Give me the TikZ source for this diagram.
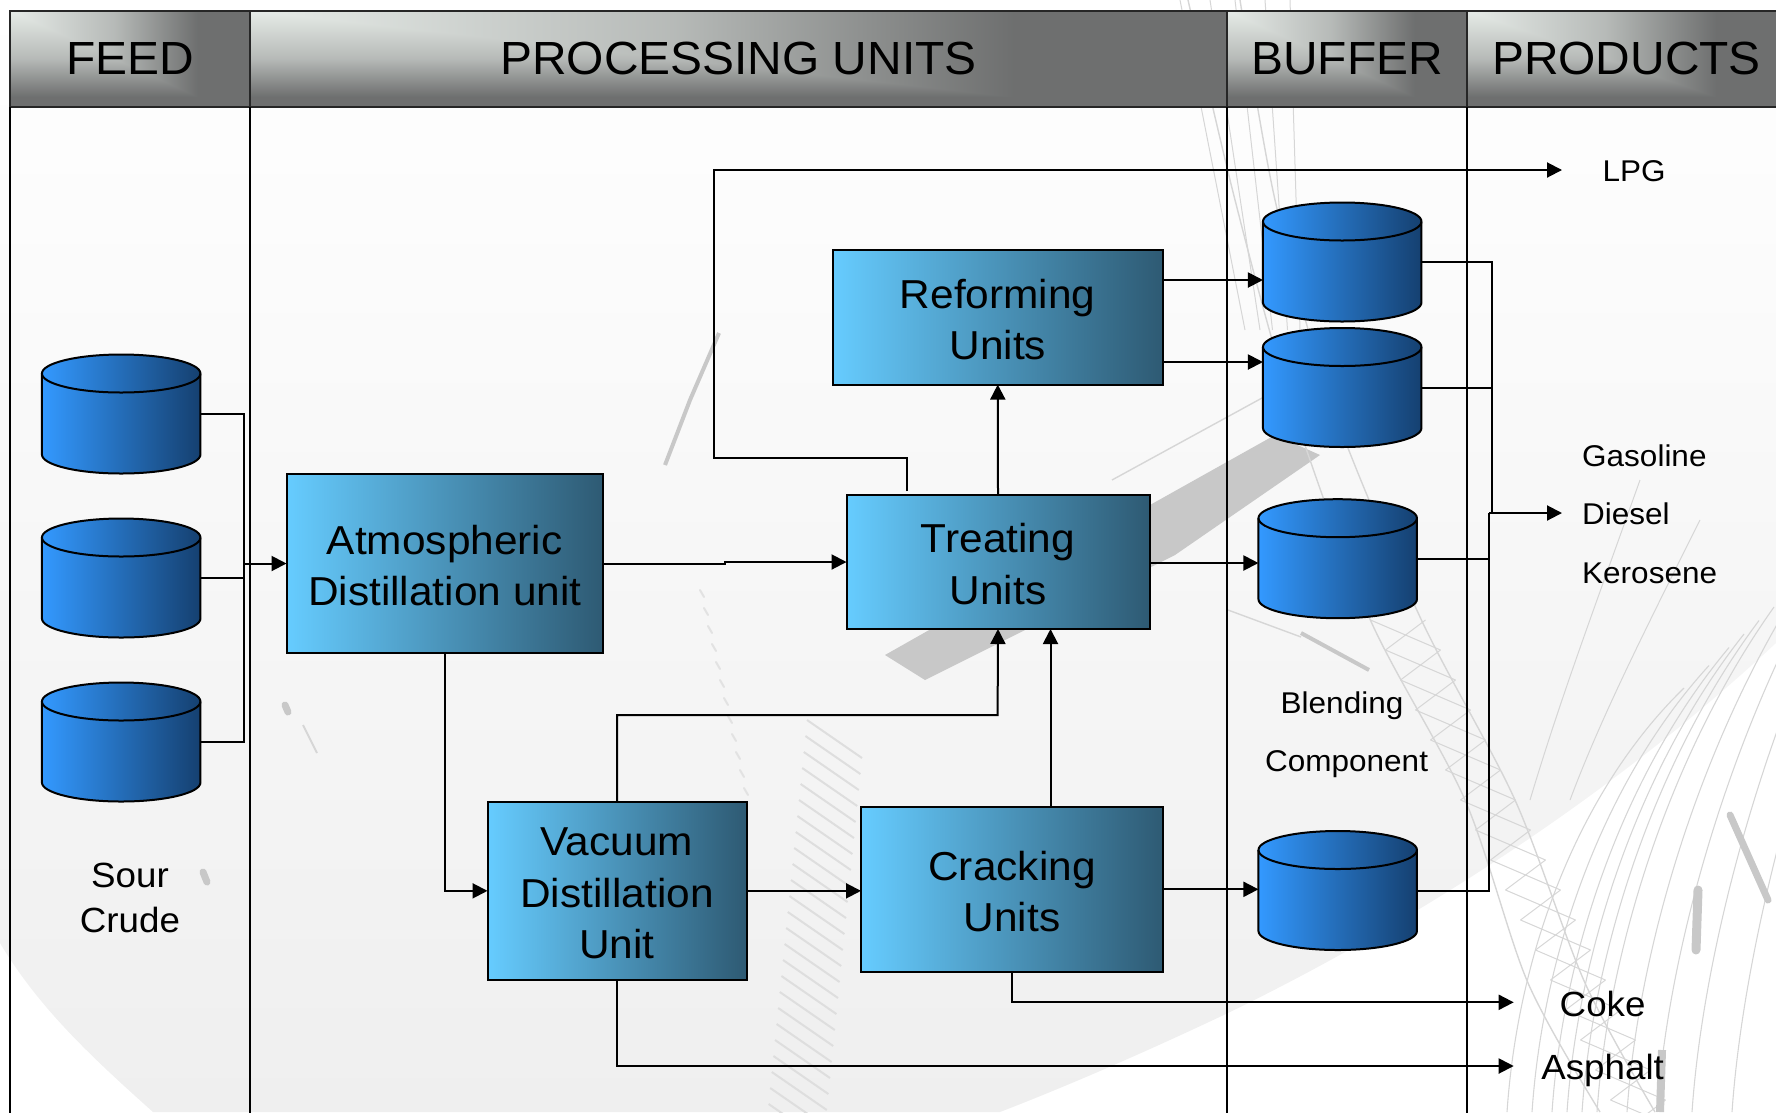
\documentclass[tikz,border=0pt]{standalone}
\usepackage{fontspec}
\usetikzlibrary{arrows.meta,calc}
\newfontfamily\diafont[FakeStretch=1.05]{Liberation Sans}
\newfontfamily\hdrfont[FakeStretch=1.03]{Liberation Sans}
\definecolor{boxL}{HTML}{66CCFF}
\definecolor{boxR}{HTML}{2E5A73}
\definecolor{tankL}{HTML}{3399FF}
\definecolor{tankR}{HTML}{154070}
\definecolor{wmA}{HTML}{D6D6D6}
\definecolor{wmB}{HTML}{C8C8C8}
\definecolor{wmC}{HTML}{DEDEDE}
\definecolor{bgG}{HTML}{EFEFEF}
\newcommand{\nudgedown}{\mbox{}\\[-18pt]}
% corner gradient of the header cells
\pgfdeclarefunctionalshading{hdrcorner}{\pgfpointorigin}{\pgfpoint{100bp}{100bp}}{}{
 75 exch sub 50 div exch 25 sub 50 div 1.15 mul
 2 copy lt {exch} if pop
 dup 0.5 lt {0.8 mul}{0.5 sub 1.5 mul 0.4 add} ifelse
 dup 1 gt {pop 1} if
 dup 0.475 mul 0.905 exch sub exch
 dup 0.49 mul 0.925 exch sub exch
 0.475 mul 0.91 exch sub
}
\tikzset{
 x=1pt,y=-1pt,
 hdr/.style={draw=black!85,line width=2pt,shade,shading=hdrcorner,inner sep=0pt,outer sep=0pt,minimum height=96pt,
   text depth=-3pt,font=\hdrfont\fontsize{46.5}{50}\selectfont},
 lane/.style={draw=black,line width=2pt},
 unitbox/.style={draw=black,line width=2pt,left color=boxL,right color=boxR,inner sep=0pt,outer sep=0pt,align=center,
   font=\diafont\fontsize{40.4}{51.5}\selectfont},
 tankbox/.style={inner sep=0pt,outer sep=0pt,minimum width=158.5pt,minimum height=119pt},
 tankbody/.style={draw=black,line width=2pt,left color=tankL,right color=tankR},
 link/.style={draw=black,line width=2pt},
 flow/.style={link,-{Triangle[length=15pt,width=15pt]}},
 lblS/.style={inner sep=0pt,font=\diafont\fontsize{30}{58.5}\selectfont},
 lblM/.style={inner sep=0pt,align=center,font=\diafont\fontsize{35}{45}\selectfont},
 wm/.style={draw=wmA,line width=1.4pt},
}
\newcommand{\mktank}[3]{%
 \node[tankbox] (#1) at (#2,#3) {};
 \path[tankbody] ([yshift=-19pt]#1.north west) -- ([yshift=19pt]#1.south west)
   arc[start angle=180,end angle=360,x radius=79.25pt,y radius=19pt]
   -- ([yshift=-19pt]#1.north east)
   arc[start angle=0,end angle=180,x radius=79.25pt,y radius=19pt] -- cycle;
 \draw[black,line width=2pt] ([yshift=-19pt]#1.north west)
   arc[start angle=180,end angle=360,x radius=79.25pt,y radius=19pt];
}
\begin{document}
\begin{tikzpicture}
\useasboundingbox (0,0) rectangle (1776,1112);
\clip (0,0) rectangle (1776,1112);
% ---------- background sweep ----------
\shade[top color=white,bottom color=bgG,shading angle=0]
  (0,0) -- (1776,0) -- (1776,643)
  .. controls (1640,770) and (1450,905) .. (1228,1013)
  .. controls (1150,1050) and (1070,1085) .. (1000,1112)
  -- (153,1112)
  .. controls (95,1060) and (40,1010) .. (0,943) -- cycle;
% ---------- watermark ----------
\fill[wmB] (885,655) -- (925,680) -- (1175,555) -- (1320,455) -- (1275,435) -- (1150,505) -- cycle;
\draw[wm] (1112,480) -- (1262,398);
\draw[wm] (1228,610) -- (1301,637);
\draw[wmB,line width=4pt] (1301,633) -- (1369,670);
\draw[wmB,line width=4pt] (719,333) -- (690,400) -- (665,465);
% tower
\draw[wm] plot[smooth] coordinates {(1188,0) (1235,200) (1290,400) (1369,617) (1465,800) (1528,983) (1600,1112)};
\draw[wm] plot[smooth] coordinates {(1240,0) (1275,200) (1330,400) (1420,617) (1515,800) (1585,983) (1655,1112)};
\foreach \dx in {-20,10,35,65,90} \draw[wm,line width=1pt] (1200+\dx,0) -- (1255+\dx/2,330);
\foreach \yy in {620,650,...,1100}{
  \pgfmathsetmacro{\xa}{1369+(\yy-617)*0.5}
  \pgfmathsetmacro{\xb}{\xa+55}
  \pgfmathsetmacro{\xc}{\xa+15}
  \pgfmathsetmacro{\xd}{\xb+15}
  \draw[wm,line width=1pt] (\xa,\yy) -- (\xd,\yy+30) (\xb,\yy) -- (\xc,\yy+30);
}
% right arcs
\foreach \d in {-60,-35,-15,0,15,30,60,90,125,165}{
  \draw[wm,line width=1.1pt] (1744+\d,634-\d*0.9) .. controls (1640+\d,765-\d*0.4) and (1578+\d,950) .. (1567+\d,1112);
}
\draw[wm,line width=1pt] (1640,480) .. controls (1590,620) and (1560,700) .. (1530,800);
\draw[wm,line width=1pt] (1700,520) .. controls (1640,640) and (1600,720) .. (1570,800);
\draw[wmB,line width=7pt,line cap=round] (1730,815) -- (1768,900);
\draw[wmB,line width=9pt,line cap=round] (1698,890) -- (1696,950);
\draw[wmB,line width=8pt] (1662,1050) -- (1660,1112);
% hatch ladder in lower middle
\foreach \yy in {720,736,...,1110}{
  \pgfmathsetmacro{\xa}{800-(\yy-790)*0.1}
  \draw[wmC,line width=2pt] (\xa,\yy) -- (\xa+55,\yy+38);
}
\foreach \i in {0,...,11}{
  \draw[wmA!70,line width=2pt,line cap=round] (700+\i*4,590+\i*18) -- (704+\i*4,597+\i*18);
}
\draw[wmB,line width=7pt,line cap=round] (285,705) -- (288,712);
\draw[wmA,line width=2pt] (303,725) -- (317,753);
\draw[wmB,line width=7pt,line cap=round] (203,872) -- (207,882);
% ---------- lanes and header ----------
\node[hdr,minimum width=240pt] (hFeed) at (130,58.5) {FEED};
\node[hdr,minimum width=977pt] (hProc) at (738.5,58.5) {PROCESSING UNITS};
\node[hdr,minimum width=240pt] (hBuf) at (1347,58.5) {BUFFER};
\node[hdr,minimum width=319pt] (hProd) at (1626.5,58.5) {PRODUCTS};
\coordinate (bot) at (0,1120);
\draw[lane] (hFeed.south west) -- (hFeed.south west |- bot);
\draw[lane] (hFeed.south east) -- (hFeed.south east |- bot);
\draw[lane] (hBuf.south west) -- (hBuf.south west |- bot);
\draw[lane] (hBuf.south east) -- (hBuf.south east |- bot);
% ---------- tanks ----------
\mktank{tA}{121.2}{414}
\mktank{tB}{121.2}{578}
\mktank{tC}{121.2}{742}
\mktank{bA}{1342.2}{262}
\mktank{bB}{1342.2}{387.5}
\mktank{bC}{1337.7}{558.7}
\mktank{bD}{1337.7}{890.5}
% ---------- units ----------
\node[unitbox,minimum width=316.5pt,minimum height=178.5pt] (atm) at (444.75,563.5) {\nudgedown Atmospheric\\Distillation unit};
\node[unitbox,minimum width=259pt,minimum height=178.5pt] (vac) at (617,890.85) {\nudgedown Vacuum\\Distillation\\Unit};
\node[unitbox,minimum width=303pt,minimum height=134pt] (treat) at (998,562) {\nudgedown Treating\\Units};
\node[unitbox,minimum width=330.5pt,minimum height=134.5pt] (ref) at (997.75,317.3) {\nudgedown Reforming\\Units};
\node[unitbox,minimum width=302pt,minimum height=164.7pt] (crack) at (1012,889.3) {\nudgedown Cracking\\Units};
% ---------- labels ----------
\node[lblM] (sour) at (130,898) {Sour\\Crude};
\node[lblS] (lpg) at (1634,171) {LPG};
\node[lblS,anchor=west,align=left] (prod) at (1582,514) {Gasoline\\Diesel\\Kerosene};
\node[lblS] (blend) at (1342,706) {Blending};
\node[lblS] (comp) at (1346.6,763.7) {Component};
\node[lblM] (coke) at (1602.6,1004) {Coke};
\node[lblM] (asph) at (1602.6,1070) {Asphalt};
% ---------- connectors ----------
\coordinate (busL) at (243.5,563.5);
\draw[link] (tA.east) -| (busL);
\draw[link] (tB.east) -| (busL);
\draw[link] (tC.east) -| (busL);
\draw[flow] (busL) -- (atm.west);
\coordinate (jog) at (725,563.5);
\draw[flow] (atm.east) -- (jog) |- (treat.west);
\draw[flow] (atm.south) |- (vac.west);
\coordinate (kv) at (997.6,715);
\draw[flow] (vac.north) |- (kv) -- (treat.south);
\draw[flow] (vac.east) -- (vac.east -| crack.west);
\coordinate (cu) at (1050.5,807);
\draw[flow] (cu) -- (cu |- treat.south);
\draw[flow] (treat.north) -- (ref.south);
\coordinate (lpgS) at (906.7,491);
\coordinate (lpgK) at (714,458);
\coordinate (lpgT) at (1562,170);
\draw[flow] (lpgS) |- (lpgK) |- (lpgT);
\coordinate (rA) at (1163,280);
\coordinate (rB) at (1163,362);
\draw[flow] (rA) -- (rA -| bA.west);
\draw[flow] (rB) -- (rB -| bB.west);
\coordinate (tr) at (1149.6,563);
\draw[flow] (tr) -- (tr -| bC.west);
\draw[flow] (crack.east) -- (crack.east -| bD.west);
\coordinate (busA) at (1491.6,513);
\coordinate (busB) at (1489.4,513);
\coordinate (prodT) at (1562,513);
\draw[link] (bA.east) -| (busA);
\draw[link] (bB.east) -| (busA);
\draw[link] (bC.east) -| (busB);
\draw[link] (bD.east) -| (busB);
\draw[flow] (busB) -- (prodT);
\coordinate (cokeT) at (1513.7,1002.3);
\coordinate (aspT) at (1513.7,1066);
\draw[flow] (crack.south) |- (cokeT);
\draw[flow] (vac.south) |- (aspT);
\end{tikzpicture}
\end{document}
